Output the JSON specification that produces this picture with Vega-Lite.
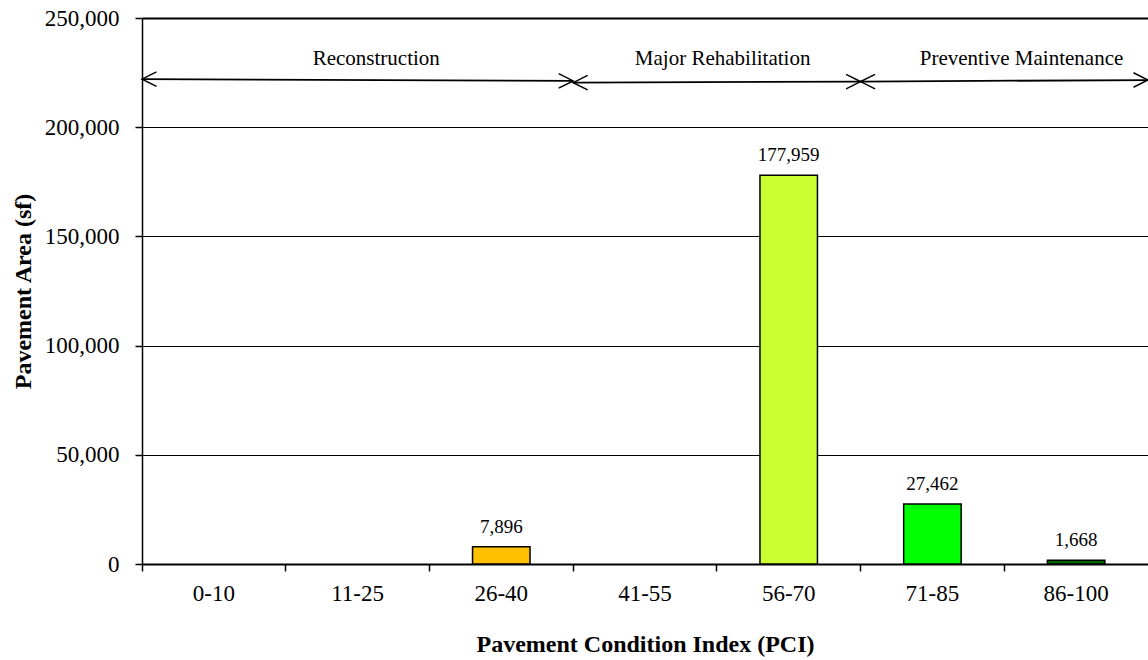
{
  "$schema": "https://vega.github.io/schema/vega-lite/v6.json",
  "autosize": {"type": "none"},
  "padding": {"left": 142, "top": 18, "right": 0, "bottom": 96},
  "width": 1006,
  "height": 546,
  "background": "white",
  "config": {
    "font": "Liberation Serif",
    "view": {"stroke": null},
    "axis": {"labelFont": "Liberation Serif", "titleFont": "Liberation Serif", "labelColor": "black", "titleColor": "black"}
  },
  "datasets": {
    "bars": [
      {"pci": "0-10", "area": 0},
      {"pci": "11-25", "area": 0},
      {"pci": "26-40", "area": 7896},
      {"pci": "41-55", "area": 0},
      {"pci": "56-70", "area": 177959},
      {"pci": "71-85", "area": 27462},
      {"pci": "86-100", "area": 1668}
    ],
    "segments": [
      {"zone": "Reconstruction", "start": 0, "end": 3, "yStart": 222000, "yEnd": 221200},
      {"zone": "Major Rehabilitation", "start": 3, "end": 5, "yStart": 220400, "yEnd": 220900},
      {"zone": "Preventive Maintenance", "start": 5, "end": 7, "yStart": 220900, "yEnd": 221600}
    ],
    "heads": [
      {"pos": 0, "y": 222000, "dir": "left"},
      {"pos": 3, "y": 221200, "dir": "right"},
      {"pos": 3, "y": 220400, "dir": "left"},
      {"pos": 5, "y": 220900, "dir": "right"},
      {"pos": 5, "y": 220900, "dir": "left"},
      {"pos": 7, "y": 221600, "dir": "right"}
    ],
    "zones": [
      {"zone": "Reconstruction", "pos": 1.63, "y": 231000},
      {"zone": "Major Rehabilitation", "pos": 4.04, "y": 231000},
      {"zone": "Preventive Maintenance", "pos": 6.12, "y": 231000}
    ]
  },
  "layer": [
    {
      "data": {"name": "bars"},
      "transform": [{"filter": "datum.area > 0"}],
      "encoding": {
        "x": {
          "field": "pci", "type": "nominal", "sort": null,
          "scale": {"domain": ["0-10", "11-25", "26-40", "41-55", "56-70", "71-85", "86-100"], "paddingInner": 0, "paddingOuter": 0},
          "axis": {
            "title": "Pavement Condition Index (PCI)", "titleFontSize": 24, "titleFontWeight": "bold",
            "titleY": 80, "titleBaseline": "middle",
            "labelAngle": 0, "labelFontSize": 23, "labelPadding": 11,
            "bandPosition": 0, "ticks": true, "tickSize": 7, "tickColor": "black", "tickWidth": 1.5,
            "domainColor": "black", "domainWidth": 2, "grid": false
          }
        },
        "y": {
          "field": "area", "type": "quantitative",
          "scale": {"domain": [0, 250000], "nice": false},
          "axis": {
            "title": "Pavement Area (sf)", "titleFontSize": 24, "titleFontWeight": "bold",
            "titleX": -119, "titleBaseline": "middle",
            "values": [0, 50000, 100000, 150000, 200000, 250000],
            "labelExpr": "format(datum.value, ',')",
            "labelFontSize": 23, "labelPadding": 16, "tickSize": 7, "tickColor": "black", "tickWidth": 1.5,
            "domainColor": "black", "domainWidth": 1.5,
            "grid": true, "gridColor": "black", "gridOpacity": 1,
            "gridWidth": {"condition": {"test": "datum.value == 250000", "value": 2.2}, "value": 1}
          }
        }
      },
      "layer": [
        {
          "mark": {"type": "bar", "width": {"band": 0.4}, "stroke": "black", "strokeWidth": 1.5},
          "encoding": {
            "color": {
              "field": "pci", "type": "nominal",
              "scale": {"domain": ["0-10", "11-25", "26-40", "41-55", "56-70", "71-85", "86-100"],
                        "range": ["#C00000", "#FF0000", "#FFC000", "#FFFF00", "#CCFF33", "#00FF00", "#006600"]},
              "legend": null
            }
          }
        },
        {
          "mark": {"type": "text", "baseline": "alphabetic", "dy": -14, "fontSize": 19, "color": "black", "font": "Liberation Serif"},
          "encoding": {
            "text": {"field": "area", "type": "quantitative", "format": ","}
          }
        }
      ]
    },
    {
      "encoding": {
        "y": {"type": "quantitative", "scale": {"domain": [0, 250000], "nice": false}}
      },
      "layer": [
        {
          "data": {"name": "segments"},
          "mark": {"type": "rule", "color": "black", "strokeWidth": 1.8},
          "encoding": {
            "x": {"field": "start", "type": "quantitative", "scale": {"domain": [0, 7], "nice": false, "zero": false}, "axis": null},
            "x2": {"field": "end"},
            "y": {"field": "yStart", "type": "quantitative", "scale": {"domain": [0, 250000], "nice": false}},
            "y2": {"field": "yEnd"}
          }
        },
        {
          "data": {"name": "heads"},
          "mark": {"type": "point", "filled": false, "stroke": "black", "strokeWidth": 1.5, "size": 210, "opacity": 1},
          "encoding": {
            "x": {"field": "pos", "type": "quantitative", "scale": {"domain": [0, 7], "nice": false, "zero": false}, "axis": null},
            "y": {"field": "y", "type": "quantitative", "scale": {"domain": [0, 250000], "nice": false}},
            "shape": {"field": "dir", "type": "nominal",
                      "scale": {"domain": ["left", "right"], "range": ["M 2 -1 L 0 0 L 2 1", "M -2 -1 L 0 0 L -2 1"]},
                      "legend": null}
          }
        },
        {
          "data": {"name": "zones"},
          "mark": {"type": "text", "baseline": "middle", "fontSize": 21, "color": "black", "font": "Liberation Serif"},
          "encoding": {
            "x": {"field": "pos", "type": "quantitative", "scale": {"domain": [0, 7], "nice": false, "zero": false}, "axis": null},
            "y": {"field": "y", "type": "quantitative", "scale": {"domain": [0, 250000], "nice": false}},
            "text": {"field": "zone", "type": "nominal"}
          }
        }
      ]
    }
  ],
  "resolve": {"scale": {"x": "independent"}, "axis": {"x": "independent"}}
}
